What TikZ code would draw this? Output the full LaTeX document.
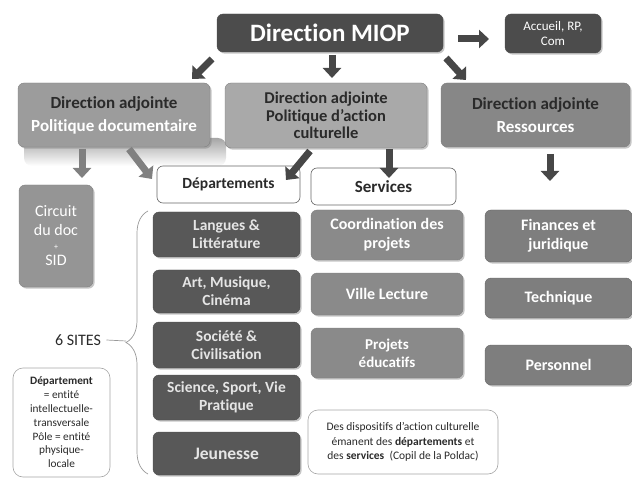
\documentclass[tikz,border=0pt]{standalone}
\usepackage{fontspec}
\setmainfont{Carlito}[Ligatures=NoCommon]
\usetikzlibrary{shadows,arrows.meta,decorations.pathreplacing}
\definecolor{cdark}{HTML}{4C4C4C}
\definecolor{cdept}{HTML}{585858}
\definecolor{cpd}{HTML}{9C9C9C}
\definecolor{cpc}{HTML}{A9A9A9}
\definecolor{cres}{HTML}{878787}
\definecolor{cserv}{HTML}{8A8A8A}
\definecolor{crch}{HTML}{7E7E7E}
\definecolor{ccirc}{HTML}{959595}
\definecolor{ctxt}{HTML}{2A2A2A}
\definecolor{carr}{HTML}{474747}
\tikzset{
  boxbase/.style={rounded corners=6pt, align=center, inner sep=2pt,
    drop shadow={opacity=0.45, shadow xshift=1.6pt, shadow yshift=-1.6pt}},
  darkbox/.style={boxbase, fill=cdark, text=white, draw=black!70, line width=0.4pt},
  deptbox/.style={boxbase, fill=cdept, text=white!90!black, draw=black!70, line width=0.4pt, font=\bfseries\fontsize{15.5}{18}\selectfont, minimum width=147pt},
  servbox/.style={boxbase, fill=cserv, text=white, draw=black!50, line width=0.4pt, font=\bfseries\fontsize{16}{19}\selectfont, minimum width=152pt},
  resbox/.style={boxbase, fill=crch, text=white, draw=black!60, line width=0.4pt, font=\bfseries\fontsize{16}{19}\selectfont, minimum width=147pt},
  headbox/.style={rounded corners=6pt, draw=black!60, fill=white, line width=0.6pt, text=ctxt, font=\bfseries\fontsize{15.5}{18}\selectfont},
  notebox/.style={rounded corners=10pt, draw=black!35, fill=white, line width=0.6pt, align=center, text=ctxt},
  blockarr/.style={line width=7pt, draw=carr, -{Triangle[width=18pt,length=10pt]}},
  lightarr/.style={blockarr, draw=black!50},
}
\begin{document}
\begin{tikzpicture}[x=1pt,y=-1pt]
\useasboundingbox (0,0) rectangle (632,481);
% top
\node[darkbox, minimum width=226pt, minimum height=38pt, font=\bfseries\fontsize{25}{28}\selectfont] (miop) at (330,33) {Direction MIOP};
\node[darkbox, minimum width=96pt, minimum height=39pt, font=\fontsize{13}{15}\selectfont] (acc) at (553,33.5) {Accueil, RP,\\Com};
% shadow / reflection under pol doc
\shade[rounded corners=8pt, top color=black!35, bottom color=white] (24,138) rectangle (226,166);
% directions adjointes
\node[boxbase, fill=cpd, draw=black!50, minimum width=192pt, minimum height=64pt, font=\bfseries\fontsize{17}{20}\selectfont] (dapd) at (114,115)
  {\textcolor{ctxt}{Direction adjointe}\\[3pt]\textcolor{white}{Politique documentaire}};
\node[boxbase, fill=cpc, draw=black!50, minimum width=202pt, minimum height=65pt, font=\bfseries\fontsize{16.5}{17.5}\selectfont, text=ctxt] (dapc) at (326,115.5)
  {Direction adjointe\\Politique d’action\\culturelle};
\node[boxbase, fill=cres, draw=black!50, minimum width=189pt, minimum height=64pt, font=\bfseries\fontsize{17}{20}\selectfont] (dares) at (535.5,115)
  {\textcolor{ctxt}{Direction adjointe}\\[3pt]\textcolor{white}{Ressources}};
% headers
\node[headbox, minimum width=143pt, minimum height=37pt] (dept) at (228.5,184.5) {Départements};
\node[headbox, minimum width=145pt, minimum height=37pt, font=\bfseries\fontsize{17}{19}\selectfont] (serv) at (383.5,186.5) {Services};
% circuit
\node[boxbase, fill=ccirc, draw=black!50, text=white, minimum width=74pt, minimum height=102pt, font=\fontsize{16}{19}\selectfont] (circ) at (56,236)
  {Circuit\\du doc\\[-5pt]{\fontsize{8}{9}\selectfont +}\\[-3pt]SID};
% departments
\node[deptbox, minimum height=45pt] (d1) at (226.5,234.5) {Langues \&\\Littérature};
\node[deptbox, minimum height=43pt] (d2) at (226.5,291.5) {Art, Musique,\\Cinéma};
\node[deptbox, minimum height=46pt] (d3) at (226.5,345) {Société \&\\Civilisation};
\node[deptbox, minimum height=45pt] (d4) at (226.5,397.5) {Science, Sport, Vie\\Pratique};
\node[deptbox, minimum height=43pt, font=\bfseries\fontsize{17.5}{20}\selectfont] (d5) at (226.5,453.5) {Jeunesse};
% services
\node[servbox, minimum height=50pt] (s1) at (387,235) {Coordination des\\projets};
\node[servbox, minimum height=42pt] (s2) at (387,294) {Ville Lecture};
\node[servbox, minimum height=50pt, font=\bfseries\fontsize{15}{18}\selectfont] (s3) at (387,353) {Projets\\éducatifs};
% ressources
\node[resbox, minimum height=52pt] (r1) at (558.5,236) {Finances et\\juridique};
\node[resbox, minimum height=40pt] (r2) at (558.5,298) {Technique};
\node[resbox, minimum height=40pt] (r3) at (558.5,365) {Personnel};
% notes
\node[notebox, minimum width=97pt, minimum height=109pt, font=\fontsize{11.3}{13.8}\selectfont] (n1) at (61.5,422.5)
  {\textbf{Département}\\= entité\\intellectuelle-\\transversale\\Pôle = entité\\physique-\\locale};
\node[notebox, minimum width=190pt, minimum height=64pt, font=\fontsize{11.5}{14.5}\selectfont] (n2) at (403,442)
  {Des dispositifs d’action culturelle\\émanent des \textbf{départements} et\\des \textbf{services}\ \ (Copil de la Poldac)};
% 6 sites + brace
\node[text=ctxt, font=\fontsize{16}{18}\selectfont] (sites) at (78,340) {6 SITES};
\draw[black!40, line width=0.7pt, decorate, decoration={brace, amplitude=22pt}] (148,474) -- (148,211);
\coordinate (btip) at (126,341);
\draw[black!40, line width=0.7pt] (sites.east) ++(2,0) -- (btip);
% arrows
\coordinate (a1s) at (212,59); \coordinate (a1e) at (192,79);
\coordinate (a2s) at (332,55); \coordinate (a2e) at (332,78);
\coordinate (a3s) at (446,58); \coordinate (a3e) at (466,80);
\coordinate (a4s) at (458,39); \coordinate (a4e) at (489,39);
\coordinate (a5s) at (82,149); \coordinate (a5e) at (82,178);
\coordinate (a6s) at (129,149); \coordinate (a6e) at (152,179);
\coordinate (a7s) at (310,151); \coordinate (a7e) at (286,180);
\coordinate (a8s) at (389,149); \coordinate (a8e) at (389,178);
\coordinate (a9s) at (550,154); \coordinate (a9e) at (550,181);
\draw[blockarr] (a1s) -- (a1e);
\draw[blockarr] (a2s) -- (a2e);
\draw[blockarr] (a3s) -- (a3e);
\draw[blockarr] (a4s) -- (a4e);
\draw[lightarr] (a5s) -- (a5e);
\draw[lightarr] (a6s) -- (a6e);
\draw[blockarr] (a7s) -- (a7e);
\draw[blockarr] (a8s) -- (a8e);
\draw[blockarr] (a9s) -- (a9e);
\end{tikzpicture}
\end{document}
